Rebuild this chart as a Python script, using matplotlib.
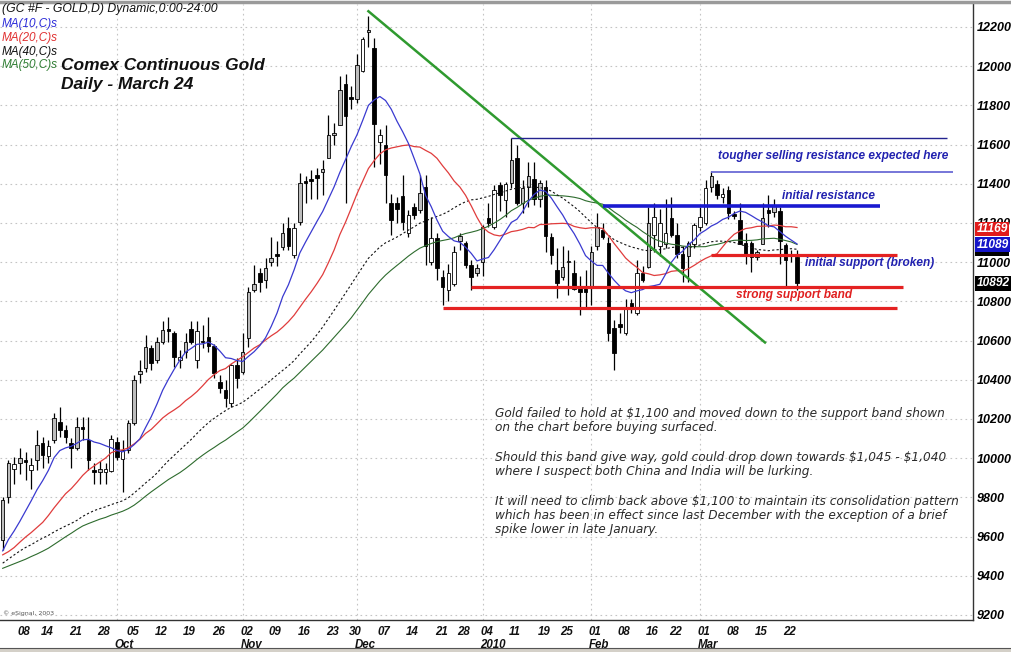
import numpy as np
import pandas as pd
import matplotlib
matplotlib.use("Agg")
import matplotlib.pyplot as plt
import matplotlib.transforms as mtransforms

# ---------------- data (prices in tenths of a dollar) ----------------
opens = [9583, 9800, 9945, 9975, 9990, 9940, 9991, 10078, 10010, 10093,
         10185, 10144, 10078, 10052, 10160, 10093, 9935, 9930, 9930, 9935,
         10083, 9996, 10042, 10180, 10430, 10460, 10562, 10500, 10590, 10660,
         10640, 10500, 10540, 10660, 10500, 10600, 10620, 10570, 10390, 10348,
         10282, 10475, 10441, 10612, 10860, 10945, 10910, 11000, 11040, 11075,
         11175, 11035, 11205, 11410, 11425, 11445, 11460, 11530, 11650, 11700,
         11910, 11840, 11830, 11975, 12175, 12090, 11615, 11600, 11300, 11300,
         11335, 11150, 11280, 11265, 11385, 11000, 11125, 10925, 10860, 10890,
         11110, 11100, 10985, 10945, 11000, 11225, 11180, 11395, 11315, 11405,
         11530, 11300, 11385, 11425, 11320, 11385, 11130, 10960, 10925, 11000,
         10945, 10870, 10875, 10870, 11080, 11165, 11100, 10665, 10685, 10640,
         10790, 10740, 10945, 10975, 11140, 11080, 11090, 11225, 11140, 11040,
         11030, 11090, 11180, 11200, 11385, 11400, 11330, 11370, 11245, 11215,
         11100, 11100, 11025, 11095, 11265, 11255, 11260, 11085, 11030, 11025]
highs = [9800, 9990, 10005, 10050, 10030, 10000, 10144, 10110, 10093, 10230,
         10260, 10170, 10103, 10210, 10210, 10210, 9975, 9985, 9975, 10120,
         10110, 10093, 10195, 10425, 10500, 10630, 10575, 10620, 10700, 10720,
         10650, 10550, 10640, 10700, 10700, 10680, 10720, 10580, 10425, 10400,
         10480, 10510, 10640, 10875, 10985, 10970, 11020, 11130, 11110, 11200,
         11230, 11200, 11455, 11440, 11470, 11480, 11520, 11750, 11710, 11950,
         11960, 11900, 12060, 12150, 12255, 12145, 11680, 11700, 11350, 11330,
         11445, 11265, 11300, 11445, 11445, 11230, 11150, 10960, 10990, 11080,
         11150, 11110, 11010, 10990, 11190, 11300, 11395, 11410, 11410, 11634,
         11600, 11420, 11510, 11510, 11420, 11420, 11150, 11070, 11080, 11060,
         11010, 10930, 10960, 11080, 11250, 11200, 11130, 10705, 10740, 10810,
         10810, 11010, 10980, 11280, 11300, 11270, 11320, 11330, 11200, 11080,
         11110, 11200, 11280, 11420, 11465, 11420, 11380, 11390, 11260, 11300,
         11150, 11110, 11060, 11300, 11340, 11320, 11280, 11100, 11060, 11060]
lows = [9532, 9770, 9870, 9920, 9890, 9840, 9940, 9950, 9975, 10078,
        10110, 10078, 9950, 10042, 10093, 9940, 9870, 9870, 9870, 9930,
        9991, 9825, 10027, 10170, 10385, 10440, 10450, 10485, 10580, 10590,
        10465, 10460, 10510, 10580, 10460, 10560, 10540, 10410, 10330, 10260,
        10260, 10360, 10430, 10569, 10850, 10850, 10868, 10980, 10980, 11060,
        11060, 11020, 11190, 11300, 11320, 11320, 11340, 11530, 11600, 11700,
        11300, 11780, 11810, 11970, 12100, 11485, 11500, 11300, 11140, 11200,
        11165, 11130, 11220, 11250, 10985, 10985, 10910, 10780, 10800, 10880,
        11060, 10970, 10860, 10930, 10930, 11180, 11170, 11260, 11230, 11380,
        11290, 11250, 11280, 11290, 11280, 11050, 10990, 10815, 10910, 10830,
        10860, 10730, 10770, 10780, 11060, 11120, 10600, 10450, 10640, 10630,
        10740, 10730, 10900, 10970, 11050, 11030, 11070, 11130, 11020, 10900,
        10900, 11070, 11160, 11190, 11360, 11320, 11300, 11220, 11220, 11090,
        10990, 10950, 11010, 11090, 11180, 11230, 10990, 10880, 11000, 10860]
closes = [9787, 9975, 9970, 10000, 9980, 9965, 10068, 10017, 10062, 10205,
          10144, 10110, 10052, 10160, 10150, 9991, 9930, 9945, 9945, 10098,
          10007, 10042, 10180, 10399, 10445, 10567, 10485, 10590, 10654, 10650,
          10515, 10515, 10590, 10590, 10650, 10590, 10570, 10435, 10360, 10307,
          10475, 10410, 10543, 10850, 10890, 10900, 10970, 11020, 11030, 11150,
          11080, 11175, 11405, 11405, 11415, 11430, 11475, 11650, 11660, 11880,
          11745, 11830, 12005, 12140, 12185, 11705, 11650, 11445, 11215, 11270,
          11205, 11240, 11240, 11355, 11080, 11125, 10970, 10875, 10945, 11050,
          11135, 10985, 10925, 10970, 11180, 11200, 11370, 11340, 11400, 11520,
          11300, 11380, 11440, 11320, 11405, 11135, 11035, 10895, 10975, 11005,
          10865, 10850, 10845, 11050, 11180, 11130, 10640, 10535, 10670, 10770,
          10770, 10945, 10910, 11200, 11230, 11200, 11150, 11140, 11040, 10970,
          11100, 11190, 11230, 11380, 11440, 11340, 11350, 11250, 11235, 11090,
          11035, 11025, 11050, 11225, 11250, 11290, 11110, 11010, 11040, 10892]
# estimated closes of the sessions before the first visible candle (moving-average warm-up)
pre_closes = [9370, 9210, 9280, 9400, 9400, 9400, 9410, 9270, 9430, 9300,
              9300, 9250, 9170, 9130, 9140, 9190, 9270, 9380, 9370, 9380,
              9500, 9500, 9530, 9530, 9510, 9530, 9350, 9370, 9370, 9540,
              9570, 9650, 9620, 9650, 9550, 9450, 9460, 9500, 9550, 9500,
              9360, 9420, 9420, 9400, 9530, 9510, 9450, 9440, 9510, 9550,
              9540, 9550]

ma_periods = [10, 20, 40, 50]
week_labels = ['08', '14', '21', '28', '05', '12', '19', '26', '02', '09', '16', '23', '30',
               '07', '14', '21', '28', '04', '11', '19', '25', '01', '08', '16', '22',
               '01', '08', '15', '22']
week_index = [3, 7, 12, 17, 22, 27, 32, 37, 42, 47, 52, 57, 61, 66, 71, 76, 80,
              84, 89, 94, 98, 103, 108, 113, 117, 122, 127, 132, 137]
month_labels = ['Oct', 'Nov', 'Dec', '2010', 'Feb', 'Mar']
month_index = [20, 42, 62, 84, 103, 122]
price_ticks = list(range(9200, 12201, 200))

# analyst's drawn lines (level, first candle, last x)
resist_levels = [11634, 11460, 11287]
resist_from = [89, 124, 105]
resist_to = [165.3, 166.3, 153.5]
support_levels = [11037, 10873, 10766]
support_from = [124, 82, 77]
support_to = [156.5, 157.6, 156.5]
trend_x = [64, 133.4]
trend_y = [12280, 10590]

# last-value markers on the price scale: MA40/50 (hidden strip), MA10, MA20, close
hidden_value = 11055
last_values = [11089, 11169, 10892]
last_colors = ['#1515c8', '#e01b1b', 'black']

notes = ["Gold failed to hold at \\$1,100 and moved down to the support band shown",
         "on the chart before buying surfaced.",
         "",
         "Should this band give way, gold could drop down towards \\$1,045 - \\$1,040",
         "where I suspect both China and India will be lurking.",
         "",
         "It will need to climb back above \\$1,100 to maintain its consolidation pattern",
         "which has been in effect since last December with the exception of a brief",
         "spike lower in late January."]

# ---------------- figure ----------------
W, H = 1012, 652
fig = plt.figure(figsize=(W / 100, H / 100), dpi=100)
fig.patch.set_facecolor('white')
ax = fig.add_axes([0, 32 / H, 973 / W, 616 / H])
ax.set_facecolor('white')

o = np.array(opens, float); h = np.array(highs, float)
l = np.array(lows, float); c = np.array(closes, float)
n = len(c)
x = np.arange(n)

ax.set_xlim(-0.47, 169.8)
ax.set_ylim(9174, 12317)

# grid
for p in price_ticks:
    ax.axhline(p, color='#c4c4c4', lw=0.8, ls=(0, (1.5, 3)), zorder=0)
for m in month_index:
    ax.axvline(m, color='#c4c4c4', lw=0.8, ls=(0, (1.5, 3)), zorder=0)

# moving averages
full = pd.Series(pre_closes + closes, dtype=float)
ma = {p: full.rolling(p).mean().to_numpy()[-n:] for p in ma_periods}
ax.plot(x, ma[50], color='#2d6b2d', lw=0.8, zorder=5)
ax.plot(x, ma[40], color='#111111', lw=0.8, ls=(0, (2, 2)), zorder=5)
ax.plot(x, ma[20], color='#e03c3c', lw=0.9, zorder=5)
ax.plot(x, ma[10], color='#3a3ad0', lw=0.9, zorder=5)

# candles
prev_c = np.concatenate([[pre_closes[-1]], c[:-1]])
fills = []
for i in range(n):
    if c[i] < o[i]:
        fills.append('black')
    elif o[i] >= prev_c[i]:
        fills.append('#bdbdbd')
    else:
        fills.append('white')
ax.vlines(x, l, h, color='black', lw=0.9, zorder=3)
body_lo = np.minimum(o, c)
body_h = np.maximum(np.abs(c - o), 7)
ax.bar(x, body_h, bottom=body_lo, width=0.62, color=fills, edgecolor='black',
       linewidth=0.6, zorder=4)

# analyst lines
ax.plot(trend_x, trend_y, color='#2f9a2f', lw=1.8, zorder=6)
ax.hlines(resist_levels[0], resist_from[0], resist_to[0], color='#23238f', lw=1.0, zorder=6)
ax.hlines(resist_levels[1], resist_from[1], resist_to[1], color='#6b6bd6', lw=1.3, zorder=6)
ax.hlines(resist_levels[2], resist_from[2], resist_to[2], color='#1a1ad0', lw=2.6, zorder=6)
for lev, a, b in zip(support_levels, support_from, support_to):
    ax.hlines(lev, a, b, color='#e42222', lw=2.3, zorder=6)

af = dict(style='italic', weight='bold', family='Liberation Sans', fontsize=8.6)
ax.text(125.2, 11542, 'tougher selling resistance expected here', color='#2222b0',
        ha='left', va='center', zorder=7, **af)
ax.text(136.4, 11338, 'initial resistance', color='#2222b0', ha='left', va='center', zorder=7, **af)
ax.text(140.4, 10996, 'initial support (broken)', color='#2222b0', ha='left', va='center', zorder=7, **af)
ax.text(128.3, 10833, 'strong support band', color='#e02020', ha='left', va='center', zorder=7, **af)

# axes frame
for s in ['top', 'left']:
    ax.spines[s].set_visible(False)
for s in ['right', 'bottom']:
    ax.spines[s].set_color('#333333')
    ax.spines[s].set_linewidth(1.0)

ax.yaxis.tick_right()
ax.set_yticks(price_ticks)
ax.set_yticklabels([str(p) for p in price_ticks])
ax.tick_params(axis='y', length=0, pad=3)
for t in ax.get_yticklabels():
    t.set_fontfamily('Liberation Sans'); t.set_fontstyle('italic')
    t.set_fontweight('bold'); t.set_fontsize(9)
ax.set_xticks([])

# last-value boxes on the price scale
tr_r = mtransforms.blended_transform_factory(ax.transAxes, ax.transData)
ax.add_patch(plt.Rectangle((1.002, hidden_value - 22), 34 / 973, 44, transform=tr_r,
                           fc='black', ec='none', clip_on=False, zorder=9))
for v, col in zip(last_values, last_colors):
    ax.text(1.0035, v, str(v), transform=tr_r, color='white', ha='left', va='center',
            fontsize=8.6, style='italic', weight='bold', family='Liberation Sans',
            bbox=dict(boxstyle='square,pad=0.12', fc=col, ec='none'), clip_on=False, zorder=10)

# date axis
tr_b = mtransforms.blended_transform_factory(ax.transData, ax.transAxes)
df = dict(style='italic', weight='bold', family='Liberation Sans', fontsize=8.3, color='#111111')
for lab, i in zip(week_labels, week_index):
    ax.text(i - 0.4, -12 / 616, lab, transform=tr_b, ha='left', va='center', clip_on=False, **df)
for lab, i in zip(month_labels, month_index):
    ax.text(i - 0.4, -25 / 616, lab, transform=tr_b, ha='left', va='center', clip_on=False, **df)

# header texts
def ftext(px, py, s, **kw):
    fig.text(px / W, 1 - py / H, s, ha='left', va='center', **kw)

ftext(2, 9, '(GC #F - GOLD,D) Dynamic,0:00-24:00', fontsize=8.8, style='italic',
      family='Liberation Sans', color='#111111')
for lab, col, py in zip(['MA(10,C)s', 'MA(20,C)s', 'MA(40,C)s', 'MA(50,C)s'],
                        ['#2a2ad8', '#e03030', '#111111', '#2e7d32'], [24, 38, 52, 65]):
    ftext(2, py, lab, fontsize=8.5, style='italic', family='Liberation Sans', color=col)
ftext(61, 65, 'Comex Continuous Gold', fontsize=12.5, style='italic', weight='bold',
      family='Liberation Sans', color='#111111')
ftext(61, 84, 'Daily - March 24', fontsize=12.5, style='italic', weight='bold',
      family='Liberation Sans', color='#111111')

yy = 414
for line in notes:
    if line:
        ftext(495, yy, line, fontsize=8.7, style='italic', family='DejaVu Sans', color='#2a2a2a')
        yy += 14
    else:
        yy += 16

ftext(3, 613, '\u00a9 eSignal, 2003', fontsize=4.5, family='DejaVu Sans', color='#555555')

# outer decoration
fig.add_artist(plt.Line2D([0, 1], [1 - 1.5 / H, 1 - 1.5 / H], color='#9a9a9a', lw=2.5))
fig.add_artist(plt.Rectangle((0, 0), 1, 4 / H, color='#d4d0c8', lw=0))
fig.add_artist(plt.Line2D([0, 1], [4 / H, 4 / H], color='#555555', lw=0.8))

fig.savefig('out.png', dpi=100, facecolor='white')
